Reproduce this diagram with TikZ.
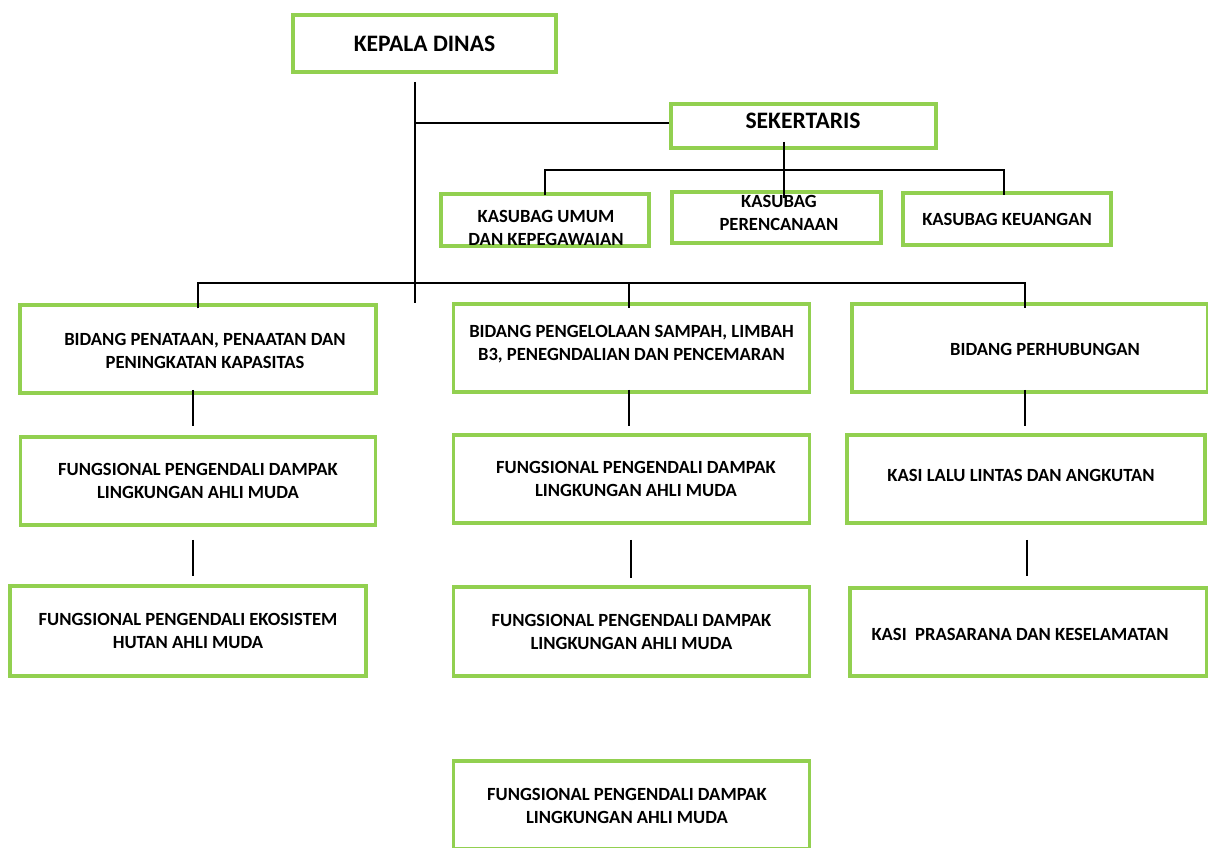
\documentclass[tikz,border=0pt]{standalone}
\usepackage{fontspec}
\setmainfont{Carlito}
\definecolor{hijau}{HTML}{92D050}
\newcommand{\kecil}{\fontsize{18.6}{23}\selectfont\bfseries}
\newcommand{\besar}{\fontsize{23.6}{28}\selectfont\bfseries}

\begin{document}
\begin{tikzpicture}[
  x=1pt, y=-1pt,
  kotak/.style={draw=hijau, line width=3.5pt, inner sep=0pt, minimum width=356pt, minimum height=88pt, align=center, font=\kecil},
  teks/.style={inner sep=0pt, align=center, font=\kecil},
  garis/.style={line width=2.6pt}
]
\useasboundingbox (0,0) rectangle (1208,847);
\clip (0,0) rectangle (1208,847);

% pimpinan dan sekretariat
\node[kotak, minimum width=263pt, minimum height=57pt, font=\besar] (kd) at (424.5,43.5) {KEPALA DINAS};
\node[kotak, minimum width=265pt, minimum height=44pt] (sek) at (803.5,126) {};
\node[teks, font=\besar] (sekt) at (803,121) {SEKERTARIS};
\node[kotak, minimum width=208pt, minimum height=52pt] (umum) at (545,220) {};
\node[teks] (umumt) at (546,228) {KASUBAG UMUM\\DAN KEPEGAWAIAN};
\node[kotak, minimum width=209pt, minimum height=51pt] (renc) at (776.5,217.5) {};
\node[teks] (renct) at (779,213) {KASUBAG\\PERENCANAAN};
\node[kotak, minimum width=208pt, minimum height=52pt] (keu) at (1007,219) {KASUBAG KEUANGAN};

% bidang
\node[kotak] (b1) at (198,349) {};
\node[teks] (b1t) at (205,350.5) {BIDANG PENATAAN, PENAATAN DAN\\PENINGKATAN KAPASITAS};
\node[kotak] (b2) at (631.5,348) {};
\node[teks] (b2t) at (631.5,344.5) {BIDANG PENGELOLAAN SAMPAH, LIMBAH\\B3, PENEGNDALIAN DAN PENCEMARAN};
\node[kotak] (b3) at (1030,348) {};
\node[teks] (b3t) at (1045,349) {BIDANG PERHUBUNGAN};

% baris kedua
\node[kotak, minimum width=355pt] (f1) at (198,481) {FUNGSIONAL PENGENDALI DAMPAK\\LINGKUNGAN AHLI MUDA};
\node[kotak] (f2) at (631.5,479) {};
\node[teks] (f2t) at (636,479) {FUNGSIONAL PENGENDALI DAMPAK\\LINGKUNGAN AHLI MUDA};
\node[kotak, minimum width=358pt] (k1) at (1026,479) {};
\node[teks] (k1t) at (1021,475) {KASI LALU LINTAS DAN ANGKUTAN};

% baris ketiga
\node[kotak, minimum height=90pt] (eko) at (188,631) {FUNGSIONAL PENGENDALI EKOSISTEM\\HUTAN AHLI MUDA};
\node[kotak, minimum height=89pt] (f3) at (631.5,631.5) {FUNGSIONAL PENGENDALI DAMPAK\\LINGKUNGAN AHLI MUDA};
\node[kotak, minimum width=357pt] (k2) at (1028.5,632) {};
\node[teks] (k2t) at (1020,634) {KASI~~PRASARANA DAN KESELAMATAN};

% baris keempat
\node[kotak] (f4) at (631.5,805) {};
\node[teks] (f4t) at (627,806) {FUNGSIONAL PENGENDALI DAMPAK\\LINGKUNGAN AHLI MUDA};

% garis
\coordinate (bh) at (415,283);
\coordinate (t2) at (415,303);
\coordinate (sh) at (784,170);
\draw[garis] ([yshift=-8pt]kd.south -| bh) -- (t2);
\draw[garis] ([yshift=3pt]sek.west -| bh) -- ([yshift=3pt]sek.west);
\draw[garis] ([yshift=8pt]sek.south -| sh) -- (sh);
\draw[garis] ([yshift=-3pt]umum.north) |- (sh) -| ([xshift=-3pt,yshift=-4pt]keu.north);
\draw[garis] (sh) -- ([yshift=-8pt]renc.north -| sh);
\draw[garis] ([yshift=-5pt]b1.north) |- (bh) -| ([xshift=-5pt,yshift=-6pt]b3.north);
\draw[garis] ([xshift=-2.5pt]bh -| b2.north) -- ([xshift=-2.5pt,yshift=-6pt]b2.north);

\draw[garis] ([xshift=-5pt,yshift=5pt]b1.south) -- ([xshift=-5pt,yshift=9pt]f1.north);
\draw[garis] ([xshift=-2.5pt,yshift=4pt]b2.south) -- ([xshift=-2.5pt,yshift=7pt]f2.north);
\draw[garis] ([xshift=-5pt,yshift=4pt]b3.south) -- ([xshift=-1pt,yshift=7pt]k1.north);
\draw[garis] ([xshift=-5pt,yshift=-13pt]f1.south) -- ([xshift=5pt,yshift=8pt]eko.north);
\draw[garis] ([xshift=-0.5pt,yshift=-15pt]f2.south) -- ([xshift=-0.5pt,yshift=7pt]f3.north);
\draw[garis] ([xshift=1pt,yshift=-15pt]k1.south) -- ([xshift=-1.5pt,yshift=10pt]k2.north);
\end{tikzpicture}
\end{document}
